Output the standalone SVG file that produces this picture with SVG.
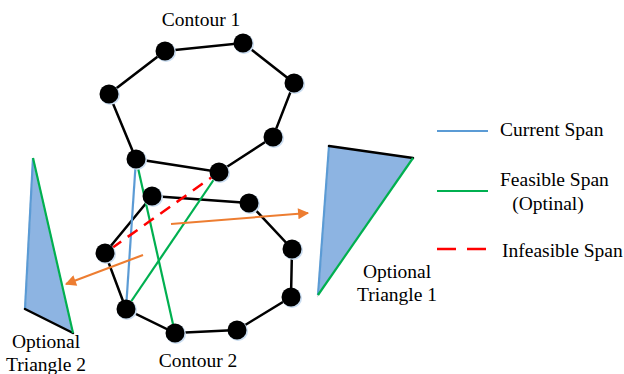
<svg xmlns="http://www.w3.org/2000/svg" width="624" height="374" viewBox="0 0 624 374">
<style>
text{font-family:"Liberation Serif","Times New Roman",serif;font-size:19.5px;fill:#000}
.edge{stroke:#000;stroke-width:2.5;fill:none;stroke-linecap:round}
.cur{stroke:#5B9BD5;stroke-width:2.2;fill:none}
.fea{stroke:#00B050;stroke-width:2.2;fill:none}
.inf{stroke:#FF0000;stroke-width:2.5;fill:none;stroke-dasharray:12,8}
.arr{stroke:#ED7D31;stroke-width:2;fill:none}
.tri{fill:#8DB4E2;stroke:#D9D9D9;stroke-width:1.5}
.node circle.h{fill:#C9DCF0}
.node circle.n{fill:#000}
</style>
<defs>
<marker id="ah" viewBox="0 0 10 10" refX="9" refY="5" markerWidth="6.5" markerHeight="5.5" orient="auto" markerUnits="strokeWidth">
<path d="M0,0 L10,5 L0,10 z" fill="#ED7D31"/>
</marker>
</defs>

<g id="triangle1">
<polygon class="tri" points="329,146 413,158 318,295"/>
<line x1="329" y1="146" x2="318" y2="295" class="cur"/>
<line x1="329" y1="146" x2="413" y2="158" class="edge"/>
<line x1="413" y1="158" x2="318" y2="295" class="fea"/>
<text x="397" y="278" text-anchor="middle">Optional</text>
<text x="397" y="301" text-anchor="middle">Triangle 1</text>
</g>

<g id="triangle2">
<polygon class="tri" points="33,158 25,309 73,333"/>
<line x1="33" y1="158" x2="25" y2="309" class="cur"/>
<line x1="25" y1="309" x2="73" y2="333" class="edge"/>
<line x1="33" y1="158" x2="73" y2="333" class="fea"/>
<text x="46" y="348" text-anchor="middle">Optional</text>
<text x="46" y="371" text-anchor="middle">Triangle 2</text>
</g>

<g id="connectors">
<polygon class="edge" points="165,51 243,43 294,83 273,137 219,172 136,159 109,94"/>
<polygon class="edge" points="152,196 249,203 292,249 291,297 237,330 175,333 126,309 105,253"/>
<line x1="136" y1="159" x2="126" y2="309" class="cur"/>
<line x1="136" y1="159" x2="175" y2="333" class="fea"/>
<line x1="219" y1="172" x2="126" y2="309" class="fea"/>
<line x1="219" y1="172" x2="105" y2="253" class="inf"/>
<line x1="171" y1="224" x2="308" y2="213" class="arr" marker-end="url(#ah)"/>
<line x1="143" y1="255" x2="66" y2="284" class="arr" marker-end="url(#ah)"/>
</g>

<g id="contour1">
<g class="node" id="c1n1"><circle class="h" cx="166" cy="52" r="10"/><circle class="n" cx="165" cy="51" r="9.5"/></g>
<g class="node" id="c1n2"><circle class="h" cx="244" cy="44" r="10"/><circle class="n" cx="243" cy="43" r="9.5"/></g>
<g class="node" id="c1n3"><circle class="h" cx="295" cy="84" r="10"/><circle class="n" cx="294" cy="83" r="9.5"/></g>
<g class="node" id="c1n4"><circle class="h" cx="274" cy="138" r="10"/><circle class="n" cx="273" cy="137" r="9.5"/></g>
<g class="node" id="c1n5"><circle class="h" cx="220" cy="173" r="10"/><circle class="n" cx="219" cy="172" r="9.5"/></g>
<g class="node" id="c1n6"><circle class="h" cx="137" cy="160" r="10"/><circle class="n" cx="136" cy="159" r="9.5"/></g>
<g class="node" id="c1n7"><circle class="h" cx="110" cy="95" r="10"/><circle class="n" cx="109" cy="94" r="9.5"/></g>
<text x="201" y="26" text-anchor="middle">Contour 1</text>
</g>

<g id="contour2">
<g class="node" id="c2n1"><circle class="h" cx="153" cy="197" r="10"/><circle class="n" cx="152" cy="196" r="9.5"/></g>
<g class="node" id="c2n2"><circle class="h" cx="250" cy="204" r="10"/><circle class="n" cx="249" cy="203" r="9.5"/></g>
<g class="node" id="c2n3"><circle class="h" cx="293" cy="250" r="10"/><circle class="n" cx="292" cy="249" r="9.5"/></g>
<g class="node" id="c2n4"><circle class="h" cx="292" cy="298" r="10"/><circle class="n" cx="291" cy="297" r="9.5"/></g>
<g class="node" id="c2n5"><circle class="h" cx="238" cy="331" r="10"/><circle class="n" cx="237" cy="330" r="9.5"/></g>
<g class="node" id="c2n6"><circle class="h" cx="176" cy="334" r="10"/><circle class="n" cx="175" cy="333" r="9.5"/></g>
<g class="node" id="c2n7"><circle class="h" cx="127" cy="310" r="10"/><circle class="n" cx="126" cy="309" r="9.5"/></g>
<g class="node" id="c2n8"><circle class="h" cx="106" cy="254" r="10"/><circle class="n" cx="105" cy="253" r="9.5"/></g>
<text x="198" y="367" text-anchor="middle">Contour 2</text>
</g>

<g id="legend">
<line x1="437" y1="131" x2="488" y2="131" class="cur"/>
<text x="500" y="136">Current Span</text>
<line x1="437" y1="191" x2="488" y2="191" class="fea"/>
<text x="500" y="186">Feasible Span</text>
<text x="548" y="210" text-anchor="middle">(Optinal)</text>
<line x1="437" y1="249" x2="488" y2="249" stroke="#FF0000" stroke-width="2.5" stroke-dasharray="19,11"/>
<text x="502" y="257">Infeasible Span</text>
</g>
</svg>
